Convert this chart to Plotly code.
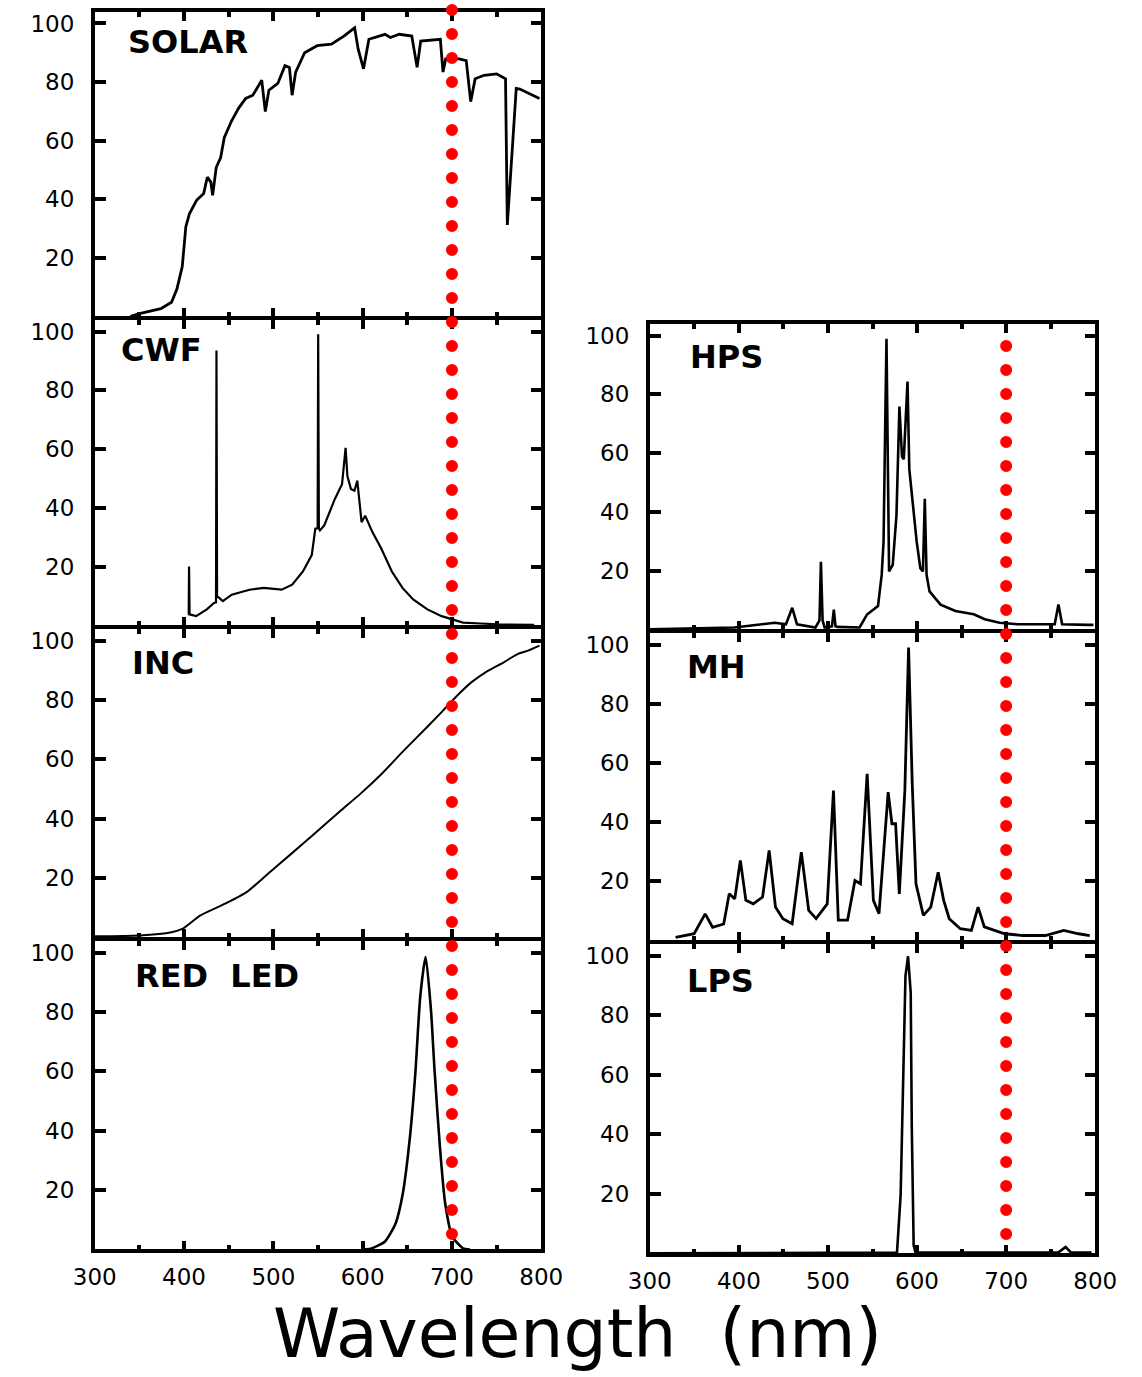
import plotly.graph_objects as go

W, H = 1142, 1377

# ---------------- data ----------------
solar_nm = [340, 350, 374, 386, 392, 398, 402, 406, 414, 422, 426, 430, 432, 436, 441, 445, 453, 461, 469, 477,
            487, 491, 495, 505, 513, 518, 521, 525, 535, 549, 565, 579, 591, 595, 601, 607, 625, 631, 641, 655,
            661, 665, 687, 690, 693, 708, 716, 721, 726, 736, 750, 760, 762, 766, 772, 776, 786, 798]
solar_val = [0, 0.9, 2.6, 4.8, 9.3, 17, 30.6, 35, 39.6, 41.9, 47.5, 45.8, 41.3, 50.8, 54.2, 61, 66.6, 71, 74.4, 75.5,
             80.6, 69.9, 77.2, 79.5, 85.6, 85, 75.5, 83.4, 90, 92.4, 92.9, 95.7, 98.5, 91.2, 84.5, 94.6, 96.3, 95.2, 96.3, 95.7,
             85, 94, 94.6, 83.4, 87.9, 87.9, 87.3, 73.3, 81.1, 82.3, 82.8, 81.1, 31.2, 48.6, 77.8, 77.6, 76.1, 74.4]

cwf_nm = [404.5, 405.2, 405.6, 406.2, 413.5, 425.5, 433.5, 435.8, 436.3, 437, 439.4, 443.4, 453.4, 473.3, 489.2,
          509.2, 521.1, 533.1, 543, 547, 549.6, 550.2, 551, 552.2, 557, 568.9, 576.9, 580.9, 582.9, 586.9,
          590.8, 594, 598.8, 602.8, 610.8, 620.7, 632.7, 644.6, 656.6, 672.5, 688.4, 700.4, 712.4, 732.3, 752.2, 792]
cwf_val = [3.7, 3.7, 20, 3.7, 3.1, 5.4, 7.6, 7.8, 93.5, 9.8, 9.3, 8.2, 10.4, 12.1, 12.7,
           12.1, 13.8, 18.3, 23.9, 32.9, 33, 99.1, 33, 32.3, 34, 43, 48, 60.4, 50.8, 46.4,
           45.8, 49.2, 35.1, 37.3, 31.8, 26.2, 18.3, 12.7, 8.8, 5.4, 3.1, 2, 0.9, 0.6, 0.3, 0.1]

inc_nm = [300, 350, 386, 398, 418, 446, 470, 494, 518, 546, 574, 598, 622, 646, 670, 690, 706, 722, 738, 758, 774, 786, 798]
inc_val = [0.3, 0.6, 1.7, 2.8, 7.3, 11.3, 15.2, 21.4, 27.6, 34.9, 42.3, 48.5, 55.3, 62.9, 70.2, 76.4, 81.5, 86, 89.4,
           92.7, 95.5, 96.7, 98.3]

led_nm = [600, 609, 625, 637, 645, 653, 659, 664.5, 670.5, 676.5, 680.5, 686.5, 692.4, 700.4, 712.4, 720]
led_val = [0, 0.2, 2.6, 8.8, 18.9, 38, 59.3, 85.2, 98.6, 80.7, 60.4, 34.6, 15.5, 4.3, 0.3, 0]

hps_nm = [300, 395, 440.5, 452.9, 459.9, 465.3, 486, 490.5, 492.1, 494, 496.3, 504.5, 506.6, 508.5, 510.7, 535.5,
          543.8, 556.2, 560.3, 562.4, 564.5, 565.7, 567.4, 568.6, 572.7, 576.9, 580.2, 583.1, 585.1, 587.2,
          589.3, 591.3, 595.5, 599.6, 603.7, 606.6, 608.7, 610.7, 614, 626.4, 643, 663.6, 676, 692.6, 713.2,
          754.5, 758.7, 762.8, 791.7, 798]
hps_val = [0, 0.6, 2.2, 1.7, 7.3, 1.7, 0.6, 3, 23, 3, 0.6, 1, 6.7, 1, 0.8, 0.6,
           5, 7.9, 18.5, 29.8, 74.7, 98.9, 52, 19.7, 21.9, 38.8, 75.8, 58.8, 57.9, 70.2,
           84.3, 54.5, 41, 29.8, 20.8, 19.7, 44.4, 18.5, 12.9, 8.4, 6.2, 5.1, 3.4, 2.2, 1.7,
           1.7, 8.4, 1.7, 1.5, 1.5]

mh_nm = [329, 349.8, 362.2, 370.5, 383, 389.2, 395.4, 401.7, 407.9, 416.2, 426.6, 434, 441.1, 449.4, 459.8,
         470.1, 478.4, 486.7, 499.2, 506.2, 511.6, 522, 530.3, 536.5, 544, 551, 557.3, 567.6, 571.8, 575.9,
         580.1, 586.3, 590.5, 594.6, 598.8, 607.1, 615.4, 623.7, 629.9, 636.1, 648.5, 661, 668.5, 675.5,
         698.3, 719.1, 744, 764.7, 781.3, 793.8]
mh_val = [1, 2.2, 8.9, 4.4, 5.5, 15.7, 14, 27, 13.5, 12.3, 14.6, 30.4, 11.2, 7.3, 5.6,
          29.8, 10.1, 7.3, 12.3, 50.6, 6.8, 6.8, 20.2, 19.1, 56.3, 13.5, 9, 50.1, 39.4, 39.4,
          15.7, 50.6, 99, 52.9, 19.1, 8.4, 11.2, 23, 13.5, 7.3, 3.9, 3.3, 11.2, 4.5,
          2.2, 1.6, 1.6, 3.3, 2.2, 1.6]

lps_nm = [300, 577.5, 581.6, 584.5, 587, 589.9, 592.9, 594.1, 596.2, 598.3, 758.4, 766.7, 773, 795.8]
lps_val = [0, 0.2, 19.7, 59.3, 93.2, 99.8, 87.6, 42.3, 2.7, 0.2, 0.2, 2.1, 0.2, 0.2]

panel_labels = ["SOLAR", "CWF", "INC", "RED  LED", "HPS", "MH", "LPS"]
x_ticks = [300, 400, 500, 600, 700, 800]
y_ticks = [20, 40, 60, 80, 100]
REF_NM = 700
x_title = "Wavelength  (nm)"

# ---------------- layout geometry (pixels: centres of the frame lines) ----------------
LW = 3.5
HALF = LW / 2

def xdom(l, r):
    return [(l + HALF) / W, (r - HALF) / W]

def ydom(t, b):
    return [1 - (b - HALF) / H, 1 - (t + HALF) / H]

LEFT = xdom(93, 543)
RIGHT = xdom(648, 1097)

panels = [
    dict(x=solar_nm, y=solar_val, xd=LEFT, yd=ydom(10, 318), lw=2.8, shape="linear", bottom=False, lab=(0.07, 0.9)),
    dict(x=cwf_nm, y=cwf_val, xd=LEFT, yd=ydom(318, 627), lw=2.2, shape="linear", bottom=False, lab=(0.055, 0.9)),
    dict(x=inc_nm, y=inc_val, xd=LEFT, yd=ydom(627, 939), lw=2.0, shape="spline", bottom=False, lab=(0.08, 0.89)),
    dict(x=led_nm, y=led_val, xd=LEFT, yd=ydom(939, 1251), lw=2.6, shape="spline", bottom=True, lab=(0.085, 0.885)),
    dict(x=hps_nm, y=hps_val, xd=RIGHT, yd=ydom(322, 631), lw=2.6, shape="linear", bottom=False, lab=(0.085, 0.89)),
    dict(x=mh_nm, y=mh_val, xd=RIGHT, yd=ydom(631, 942), lw=2.8, shape="linear", bottom=False, lab=(0.08, 0.89)),
    dict(x=lps_nm, y=lps_val, xd=RIGHT, yd=ydom(942, 1255), lw=2.6, shape="linear", bottom=True, lab=(0.08, 0.88)),
]

FONT = "DejaVu Sans"
fig = go.Figure()
layout = dict(
    width=W, height=H, margin=dict(l=0, r=0, t=0, b=0, autoexpand=False),
    paper_bgcolor="white", plot_bgcolor="white", showlegend=False,
    font=dict(family=FONT, color="black", size=22),
)
annotations = []

for i, p in enumerate(panels, start=1):
    sfx = "" if i == 1 else str(i)
    fig.add_trace(go.Scatter(
        x=p["x"], y=p["y"], mode="lines",
        line=dict(color="black", width=p["lw"], shape=p["shape"], smoothing=0.6),
        xaxis="x" + sfx, yaxis="y" + sfx, hoverinfo="skip", cliponaxis=True,
    ))
    layout["xaxis" + sfx] = dict(
        domain=p["xd"], anchor="y" + sfx, range=[300, 800], automargin=False,
        tickvals=x_ticks, ticks="inside", ticklen=9, tickwidth=3.5, tickcolor="black",
        minor=dict(dtick=50, tick0=350, ticks="inside", ticklen=5, tickwidth=4, tickcolor="black"),
        showline=True, linewidth=LW, linecolor="black", mirror="ticks",
        showgrid=False, zeroline=False, showticklabels=p["bottom"],
        tickfont=dict(family=FONT, size=23, color="black"), ticklabelstandoff=4,
    )
    layout["yaxis" + sfx] = dict(
        domain=p["yd"], anchor="x" + sfx, range=[0, 104], automargin=False,
        tickvals=y_ticks, ticks="inside", ticklen=11, tickwidth=3.5, tickcolor="black",
        showline=True, linewidth=LW, linecolor="black", mirror="ticks",
        showgrid=False, zeroline=False,
        tickfont=dict(family=FONT, size=23, color="black"), ticklabelstandoff=12,
    )
    annotations.append(dict(
        text=panel_labels[i - 1], xref=("x" + sfx) + " domain", yref=("y" + sfx) + " domain",
        x=p["lab"][0], y=p["lab"][1], xanchor="left", yanchor="middle", showarrow=False,
        font=dict(family=FONT, size=32, color="black", weight="bold"),
    ))

annotations.append(dict(
    text=x_title, xref="paper", yref="paper", x=577 / W, y=1 - 1333 / H,
    xanchor="center", yanchor="middle", showarrow=False,
    font=dict(family=FONT, size=68, color="black"),
))
layout["annotations"] = annotations

layout["shapes"] = [
    dict(type="line", xref="x", yref="paper", x0=REF_NM, x1=REF_NM, y0=1 - 10 / H, y1=1 - 1258 / H,
         line=dict(color="#ff0000", width=12, dash="0px,24px")),
    dict(type="line", xref="x5", yref="paper", x0=REF_NM, x1=REF_NM, y0=1 - 346 / H, y1=1 - 1258 / H,
         line=dict(color="#ff0000", width=12, dash="0px,24px")),
]

fig.update_layout(**layout)

post = ("var s=document.createElement('style');"
        "s.textContent='.shapelayer path{stroke-linecap:round;}';"
        "document.head.appendChild(s);")
fig.write_html("out.html", post_script=post)
